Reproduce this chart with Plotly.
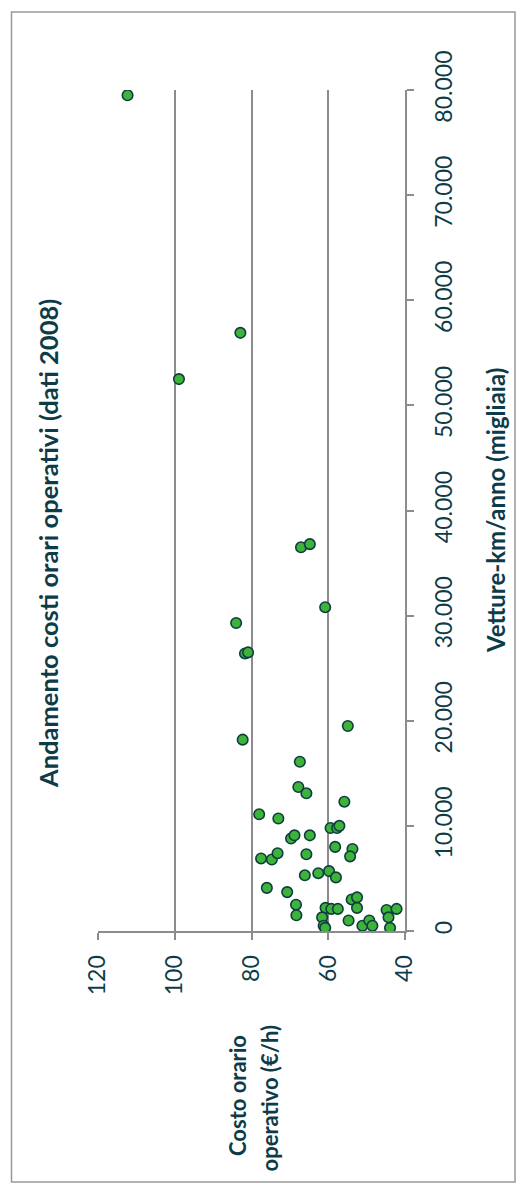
import plotly.graph_objects as go

# Costo orario operativo (€/h) per azienda, dati 2008
costo = [
    112.3, 98.9, 82.9, 81.7, 80.9, 84.0, 67.1, 64.8, 60.8,
    82.3, 54.9, 67.4, 67.8, 65.7, 55.8, 78.0, 73.0,
    59.4, 57.7, 57.1, 69.7, 68.8, 64.8, 58.2,
    53.7, 54.3, 77.5, 74.7, 73.2, 65.7,
    66.1, 62.6, 59.8, 58.0, 76.0, 70.7, 68.4, 68.3,
    53.9, 52.5, 52.5, 60.7, 59.2, 57.5,
    61.6, 61.2, 60.8, 54.7, 51.1, 49.3, 48.5,
    44.8, 42.2, 44.3, 43.9,
]
# Vetture-km/anno (migliaia)
vetture_km = [
    79500, 52500, 56900, 26400, 26500, 29300, 36500, 36800, 30800,
    18200, 19500, 16100, 13700, 13100, 12300, 11100, 10700,
    9800, 9800, 10000, 8800, 9100, 9100, 8000,
    7800, 7100, 6900, 6800, 7400, 7300,
    5300, 5500, 5700, 5100, 4100, 3700, 2500, 1500,
    3000, 3200, 2200, 2200, 2100, 2100,
    1300, 500, 300, 1000, 500, 1000, 500,
    2000, 2100, 1300, 300,
]

costo_ticks = [120, 100, 80, 60, 40]
km_ticks = [0, 10000, 20000, 30000, 40000, 50000, 60000, 70000, 80000]
km_tick_labels = ["0", "10.000", "20.000", "30.000", "40.000",
                  "50.000", "60.000", "70.000", "80.000"]

W, H = 529, 1196
L, R, T, B = 98, 124, 90, 265
PW, PH = W - L - R, H - T - B

TEXT = "#0d3c48"
GRID = "#8c8c8c"
FONT = "Lato"


def px_x(px):
    return (px - L) / PW


def px_y(py):
    return (H - B - py) / PH


fig = go.Figure()
fig.add_trace(go.Scatter(
    x=costo, y=vetture_km, mode="markers",
    marker=dict(size=10.5, color="#3db33a",
                line=dict(color="#0e3d40", width=1.6)),
    showlegend=False, hoverinfo="skip",
))

fig.update_layout(
    width=W, height=H,
    margin=dict(l=L, r=R, t=T, b=B),
    paper_bgcolor="white", plot_bgcolor="white",
    font=dict(family=FONT, color=TEXT, size=22),
    xaxis=dict(
        range=[120, 40], tickvals=costo_ticks,
        ticktext=[str(v) for v in costo_ticks],
        tickangle=-90, showgrid=True, gridcolor=GRID, gridwidth=2,
        showline=True, linecolor=GRID, linewidth=2,
        ticks="outside", ticklen=7, tickcolor=GRID, tickwidth=1.5,
        zeroline=False, ticklabelstandoff=6,
        tickfont=dict(family=FONT, size=23, color=TEXT),
    ),
    yaxis=dict(
        range=[0, 80000], side="right", tickvals=km_ticks,
        ticktext=km_tick_labels, tickangle=-90, showgrid=False,
        showline=True, linecolor=GRID, linewidth=2,
        ticks="outside", ticklen=7, tickcolor=GRID, tickwidth=1.5,
        zeroline=False, ticklabelstandoff=10,
        tickfont=dict(family=FONT, size=23, color=TEXT),
    ),
    shapes=[dict(
        type="rect", xref="paper", yref="paper", layer="below",
        x0=px_x(11.5), x1=px_x(515), y0=px_y(1182), y1=px_y(12),
        line=dict(color="#999999", width=1.5), fillcolor="rgba(0,0,0,0)",
    )],
)

anno = dict(xref="paper", yref="paper", showarrow=False, textangle=-90,
            xanchor="center", yanchor="middle")
fig.add_annotation(text="<b>Andamento costi orari operativi (dati 2008)</b>",
                   x=px_x(48), y=px_y(544),
                   font=dict(family=FONT, size=25.5, color=TEXT), **anno)
fig.add_annotation(text="<b>Vetture-km/anno (migliaia)</b>",
                   x=px_x(495), y=px_y(511),
                   font=dict(family=FONT, size=24, color=TEXT), **anno)
fig.add_annotation(text="<b>Costo orario</b>",
                   x=px_x(237), y=px_y(1096),
                   font=dict(family=FONT, size=22, color=TEXT), **anno)
fig.add_annotation(text="<b>operativo (€/h)</b>",
                   x=px_x(268.5), y=px_y(1098),
                   font=dict(family=FONT, size=22, color=TEXT), **anno)

fig.write_html("out.html")
